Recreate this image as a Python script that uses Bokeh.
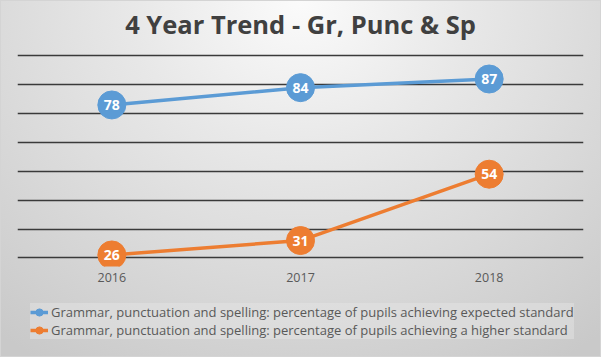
from bokeh.plotting import figure
from bokeh.layouts import column
from bokeh.models import FactorRange, Range1d, FixedTicker, Legend, LegendItem, ColumnDataSource
from bokeh.core.properties import value
from bokeh.embed import file_html
from bokeh.resources import INLINE

years = ["2016", "2017", "2018"]
expected = [78, 84, 87]
higher = [26, 31, 54]
series_names = [
    "Grammar, punctuation and spelling: percentage of pupils achieving expected standard",
    "Grammar, punctuation and spelling: percentage of pupils achieving a higher standard",
]
grid_ticks = [25, 35, 45, 55, 65, 75, 85, 95]
colors = ["#5b9bd5", "#ed7d31"]

p = figure(width=601, height=290, x_range=FactorRange(*years, range_padding=0),
           y_range=Range1d(22, 100), output_backend="svg", toolbar_location=None,
           title="4 Year Trend - Gr, Punc & Sp",
           min_border_left=17, min_border_right=18, min_border_top=41, min_border_bottom=24)
p.background_fill_alpha = 0
p.border_fill_alpha = 0
p.outline_line_color = None

p.title.align = "center"
p.title.text_font = "Open Sans"
p.title.text_font_style = "bold"
p.title.text_font_size = "25.5px"
p.title.text_color = "#404040"
p.title.offset = 0
p.title.standoff = 2

p.yaxis.visible = False
p.xaxis.axis_line_color = None
p.xaxis.major_tick_line_color = None
p.xaxis.minor_tick_line_color = None
p.xaxis.major_tick_out = 0
p.xaxis.major_tick_in = 0
p.xaxis.major_label_standoff = 6
p.xaxis.major_label_text_font = "Open Sans"
p.xaxis.major_label_text_font_size = "12.5px"
p.xaxis.major_label_text_color = "#595959"
p.xgrid.grid_line_color = None
p.ygrid.ticker = FixedTicker(ticks=grid_ticks)
p.ygrid.grid_line_color = "#3a3a3a"
p.ygrid.grid_line_width = 1.7

# legend panel
p2 = figure(width=601, height=67, x_range=Range1d(0, 1), y_range=Range1d(0, 1),
            output_backend="svg", toolbar_location=None,
            min_border_left=0, min_border_right=0, min_border_top=0, min_border_bottom=0)
p2.axis.visible = False
p2.grid.visible = False
p2.background_fill_alpha = 0
p2.border_fill_alpha = 0
p2.outline_line_color = None

nan = float("nan")
items = []
for vals, col, name in zip([expected, higher], colors, series_names):
    src = ColumnDataSource(dict(x=years, y=vals, t=[str(v) for v in vals]))
    p.line("x", "y", source=src, line_color=col, line_width=3.5)
    p.scatter("x", "y", source=src, size=28, fill_color=col, line_color=col)
    p.text("x", "y", text="t", source=src, text_color="white", text_font=value("Open Sans"),
           text_font_style="bold", text_font_size="14px", text_align="center", text_baseline="middle")
    dummy = ColumnDataSource(dict(x=[nan], y=[nan]))
    ln2 = p2.line("x", "y", source=dummy, line_color=col, line_width=3.5)
    sc2 = p2.scatter("x", "y", source=dummy, size=28, fill_color=col, line_color=col)
    items.append(LegendItem(label=name, renderers=[ln2, sc2]))

legend = Legend(items=items, location=(13, 18), orientation="vertical",
                label_text_font="Open Sans", label_text_font_size="13px", label_text_color="#595959",
                glyph_width=18, glyph_height=18, label_height=18, spacing=0, padding=4, margin=0,
                label_standoff=3, background_fill_color="#e6e6e6", background_fill_alpha=0.45,
                border_line_color=None)
p2.add_layout(legend, "center")

layout = column(p, p2, spacing=0)
layout.styles = {"background-image": "radial-gradient(ellipse 80% 120% at 50% 0%, #fbfbfb 0%, #e8e8e8 35%, #c9c9c9 100%)",
                 "box-shadow": "inset 0 0 0 1px #d4d4d4"}

open("out.html", "w").write(file_html(layout, INLINE))
